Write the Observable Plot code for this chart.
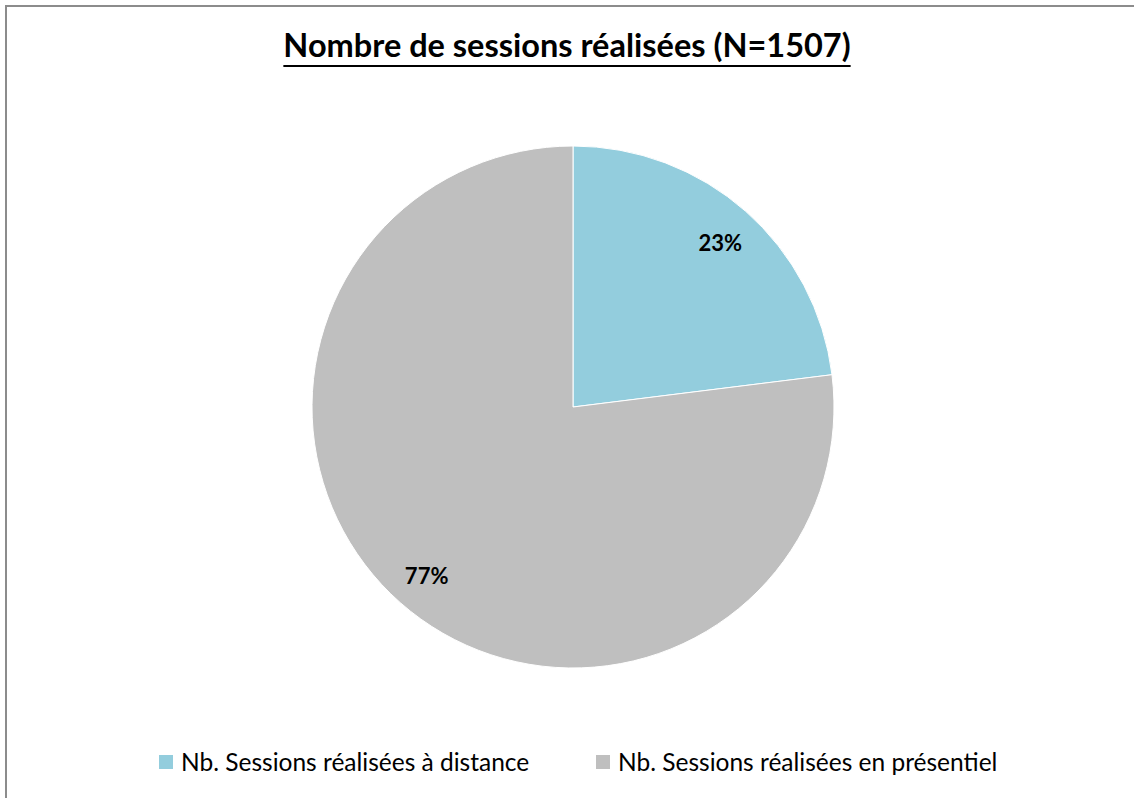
<!DOCTYPE html>
<html>
<head>
<meta charset="utf-8">
<script src="https://cdn.jsdelivr.net/npm/d3@7"></script>
<script src="https://cdn.jsdelivr.net/npm/@observablehq/plot@0.6"></script>
<style>
  html, body { margin: 0; padding: 0; background: #fff; }
  #frame { position: relative; width: 1134px; height: 798px; overflow: hidden; font-family: Lato, "Noto Sans", sans-serif; }
  #border { position: absolute; left: 5px; top: 5px; width: 1140px; height: 800px; border-left: 2px solid #8c8c8c; border-top: 2px solid #8c8c8c; box-sizing: border-box; }
  #title { position: absolute; left: 0; top: 29px; width: 1134px; text-align: center; line-height: 32px; }
  #title span { font-weight: bold; font-size: 32.5px; text-decoration: underline; text-decoration-thickness: 2px; text-underline-offset: 8px; color: #000; }
  #chart { position: absolute; left: 0; top: 90px; }
  #legend { position: absolute; left: 0; top: 750px; width: 1134px; height: 24px; font-size: 24.5px; line-height: 24px; color: #000; }
  .item { position: absolute; top: 0; display: flex; align-items: center; height: 24px; }
  .sw { width: 14px; height: 14px; margin-right: 8px; flex: none; }
</style>
</head>
<body>
<div id="frame">
  <div id="border"></div>
  <div id="title"><span>Nombre de sessions réalisées (N=1507)</span></div>
  <div id="chart"></div>
  <div id="legend"></div>
</div>
<script>
const categories = ["Nb. Sessions réalisées à distance", "Nb. Sessions réalisées en présentiel"];
const values = [347, 1160];
const labels = ["23%", "77%"];
const colors = ["#93cddd", "#bfbfbf"];

const data = categories.map((c, i) => ({category: c, value: values[i], label: labels[i]}));
const arcs = d3.pie().sort(null).value(d => d.value)(data);
const labelR = 0.85;
const labelData = arcs.map(a => {
  const m = (a.startAngle + a.endAngle) / 2;
  return {label: a.data.label, x: labelR * Math.sin(m), y: labelR * Math.cos(m)};
});

const cx = 573, cy = 317, R = 261;
const W = 1134, H = 640;

const pieMark = (index, scales, values, dims, context) => {
  const r = scales.x(1) - scales.x(0);
  const g = d3.create("svg:g")
    .attr("transform", `translate(${scales.x(0)},${scales.y(0)})`);
  const arcGen = d3.arc().innerRadius(0).outerRadius(r);
  g.selectAll("path").data(arcs).join("path")
    .attr("d", arcGen)
    .attr("fill", d => scales.color ? scales.color(d.data.category) : colors[d.index])
    .attr("stroke", "#ffffff")
    .attr("stroke-width", 1);
  return g.node();
};

const plot = Plot.plot({
  width: W,
  height: H,
  margin: 0,
  x: {domain: [-1, 1], range: [cx - R, cx + R], axis: null},
  y: {domain: [-1, 1], range: [cy + R, cy - R], axis: null},
  color: {domain: categories, range: colors},
  style: {background: "transparent"},
  marks: [
    pieMark,
    Plot.dot(data, {x: 0, y: 0, r: 0, fill: "category"}),
    Plot.text(labelData, {x: "x", y: "y", dy: 3, text: "label", fontSize: 22, fontWeight: "bold", fill: "#000", fontFamily: "Lato, 'Noto Sans', sans-serif"})
  ]
});
document.getElementById("chart").appendChild(plot);

const legend = document.getElementById("legend");
const lx = [159, 596];
categories.forEach((c, i) => {
  const it = document.createElement("div");
  it.className = "item";
  it.style.left = lx[i] + "px";
  const sw = document.createElement("div");
  sw.className = "sw";
  sw.style.background = colors[i];
  const t = document.createElement("span");
  t.textContent = c;
  it.appendChild(sw); it.appendChild(t);
  legend.appendChild(it);
});
</script>
</body>
</html>
